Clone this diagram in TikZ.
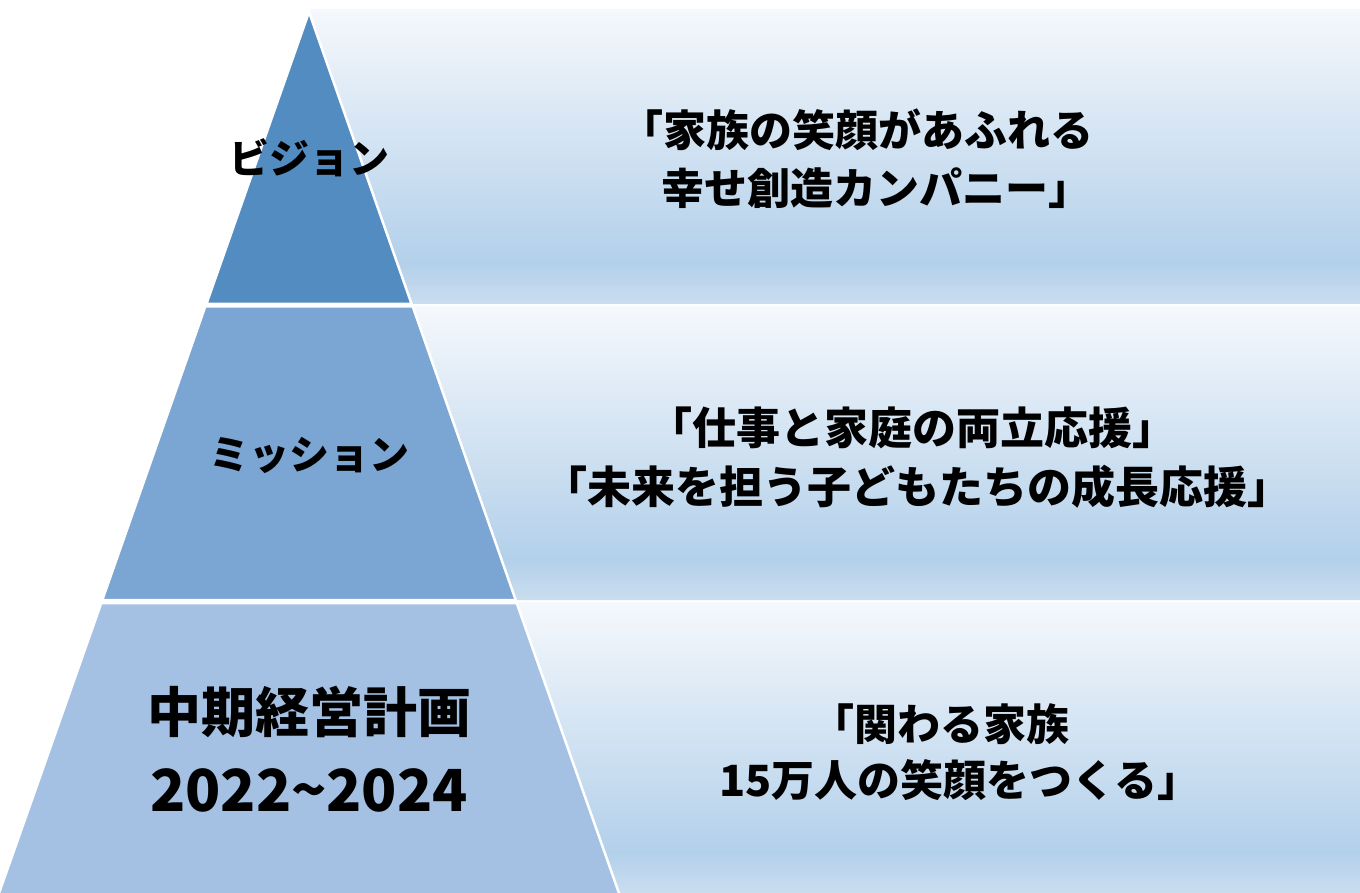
\documentclass[tikz,border=0pt]{standalone}
\usepackage{fontspec}
\newfontfamily\jp{Noto Sans CJK JP}
\definecolor{lay1}{HTML}{538CC1}
\definecolor{lay2}{HTML}{7BA5D2}
\definecolor{lay3}{HTML}{A4C1E4}
\definecolor{bandtop}{HTML}{F5F8FC}
\definecolor{banddeep}{HTML}{B3D0EA}
\definecolor{bandbot}{HTML}{CADDF0}
\pgfdeclareverticalshading{bandshade}{100bp}{color(0bp)=(bandbot); color(25bp)=(bandbot); color(32bp)=(banddeep); color(75bp)=(bandtop); color(100bp)=(bandtop)}
\tikzset{
  band/.style={shading=bandshade, draw=none},
  layer/.style={draw=white, line width=2.5pt, line join=miter},
  lbl/.style={font=\jp\bfseries\fontsize{40}{48}\selectfont, align=center, inner sep=0pt},
  rtxt/.style={font=\jp\bfseries\fontsize{43}{58}\selectfont, inner sep=0pt},
}
\begin{document}
\begin{tikzpicture}[x=1pt,y=-1pt]
\useasboundingbox (0,0) rectangle (1360,893);
% bands
\path[band] (307.9,9) -- (1360,9) -- (1360,304) -- (411.6,304) -- cycle;
\path[band] (412.3,306) -- (1360,306) -- (1360,600) -- (515.7,600) -- cycle;
\path[band] (516.4,602) -- (1360,602) -- (1360,893) -- (618.7,893) -- cycle;
% pyramid layers
\path[layer, fill=lay1] (309,12) -- (411.6,304) -- (206.4,304) -- cycle;
\path[layer, fill=lay2] (412.7,306.5) -- (515.7,600) -- (102.3,600) -- (205.3,306.5) -- cycle;
\path[layer, fill=lay3] (516.7,603) -- (620,896) -- (-2,896) -- (101.3,603) -- cycle;
% labels
\node[lbl] (vision) at (309,158) {ビジョン};
\node[lbl] (mission) at (309,455) {ミッション};
\node[lbl, font=\jp\bfseries\fontsize{54}{60}\selectfont] (plan) at (309,712) {中期経営計画};
\node[lbl, font=\jp\bfseries\fontsize{58}{60}\selectfont] (years) at (309,790) {2022{\char"7E}2024};
% texts
\node[rtxt] (vtext1) at (857,130) {「家族の笑顔があふれる};
\node[rtxt] (vtext2) at (876,188) {幸せ創造カンパニー」};
\node[rtxt, font=\jp\bfseries\fontsize{44}{58}\selectfont] (mtext1) at (912,428) {「仕事と家庭の両立応援」};
\node[rtxt, font=\jp\bfseries\fontsize{44}{58}\selectfont] (mtext2) at (917,487) {「未来を担う子どもたちの成長応援」};
\node[rtxt] (ptext1) at (940,724) {「関わる家族};
\node[rtxt] (ptext2) at (960,780) {15万人の笑顔をつくる」};
\end{tikzpicture}
\end{document}
